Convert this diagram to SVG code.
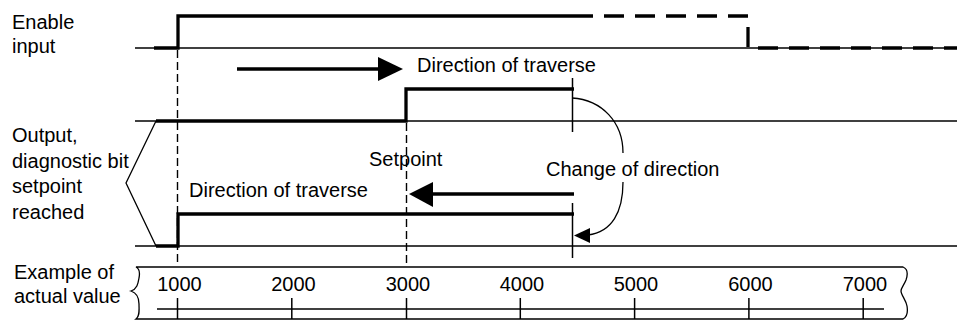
<svg xmlns="http://www.w3.org/2000/svg" width="957" height="320" viewBox="0 0 957 320">
<style>
text{font-family:"Liberation Sans",Arial,sans-serif;font-size:20px;fill:#000}
.thin{stroke:#000;stroke-width:1.3;fill:none}
.thick{stroke:#000;stroke-width:3.3;fill:none}
.dthick{stroke:#000;stroke-width:3.3;fill:none;stroke-dasharray:20 11}
.dthin{stroke:#000;stroke-width:1.4;fill:none;stroke-dasharray:8 4}
.tick{stroke:#000;stroke-width:1.5;fill:none}
</style>
<rect width="957" height="320" fill="#fff"/>
<g id="enable-input">
<text x="12" y="29">Enable</text>
<text x="12" y="53">input</text>
<line class="thin" x1="135" y1="48" x2="957" y2="48"/>
<polyline class="thick" points="154,48 178,48 178,16 573,16"/>
<polyline class="dthick" points="573,16 748,16 748,48 957,48"/>
</g>
<g id="output-bit">
<text x="12" y="142">Output,</text>
<text x="12" y="168">diagnostic bit</text>
<text x="12" y="193">setpoint</text>
<text x="12" y="219">reached</text>
<polyline class="thin" points="156,121 126,183 156,246"/>
<line class="thin" x1="135" y1="121" x2="957" y2="121"/>
<line class="thin" x1="135" y1="246" x2="957" y2="246"/>
<polyline class="thick" points="156,121 406,121 406,89 574,89"/>
<polyline class="thick" points="156,246 178,246 178,214 574,214"/>
<line class="tick" x1="572.5" y1="78" x2="572.5" y2="132"/>
<line class="tick" x1="572.5" y1="203" x2="572.5" y2="258"/>
</g>
<g id="guides">
<line class="dthin" x1="177.5" y1="50" x2="177.5" y2="266"/>
<line class="dthin" x1="406.5" y1="123" x2="406.5" y2="266"/>
<text x="369" y="166">Setpoint</text>
</g>
<g id="connectors">
<line class="thick" x1="237" y1="69" x2="380" y2="69"/>
<polygon points="378,57 403,69 378,81"/>
<text x="417" y="72">Direction of traverse</text>
<line class="thick" x1="574" y1="194" x2="431" y2="194"/>
<polygon points="433,182 409,194 433,207"/>
<text x="189" y="197">Direction of traverse</text>
<path class="thin" d="M572,98 C602,100 623,122 623,153"/>
<path class="thin" d="M623,182 C623,212 612,232 588,235"/>
<polygon points="590,228 574,235.5 590,243"/>
<text x="546" y="176">Change of direction</text>
</g>
<g id="actual-value-axis">
<text x="14" y="279">Example of</text>
<text x="14" y="303">actual value</text>
<path class="thin" d="M136,267 H903 C908,269 908,274 906,280 C904,285 901,288 901,291 C901,295 906,300 907,306 C908,312 907,317 903,319 H136 C140,316 139,310 139,304 C139,298 137,293 131,291 C137,289 138,284 139,278 C140,273 140,269 136,267 Z"/>
<line class="thin" x1="157" y1="309" x2="884" y2="309"/>
<g class="tick">
<line x1="177.5" y1="298" x2="177.5" y2="319"/>
<line x1="291.8" y1="298" x2="291.8" y2="319"/>
<line x1="406.5" y1="298" x2="406.5" y2="319"/>
<line x1="520.3" y1="298" x2="520.3" y2="319"/>
<line x1="634.6" y1="298" x2="634.6" y2="319"/>
<line x1="748.9" y1="298" x2="748.9" y2="319"/>
<line x1="863.2" y1="298" x2="863.2" y2="319"/>
</g>
<g text-anchor="middle">
<text x="179.5" y="291">1000</text>
<text x="293.5" y="291">2000</text>
<text x="408" y="291">3000</text>
<text x="522" y="291">4000</text>
<text x="636" y="291">5000</text>
<text x="750.5" y="291">6000</text>
<text x="865" y="291">7000</text>
</g>
</g>
</svg>
